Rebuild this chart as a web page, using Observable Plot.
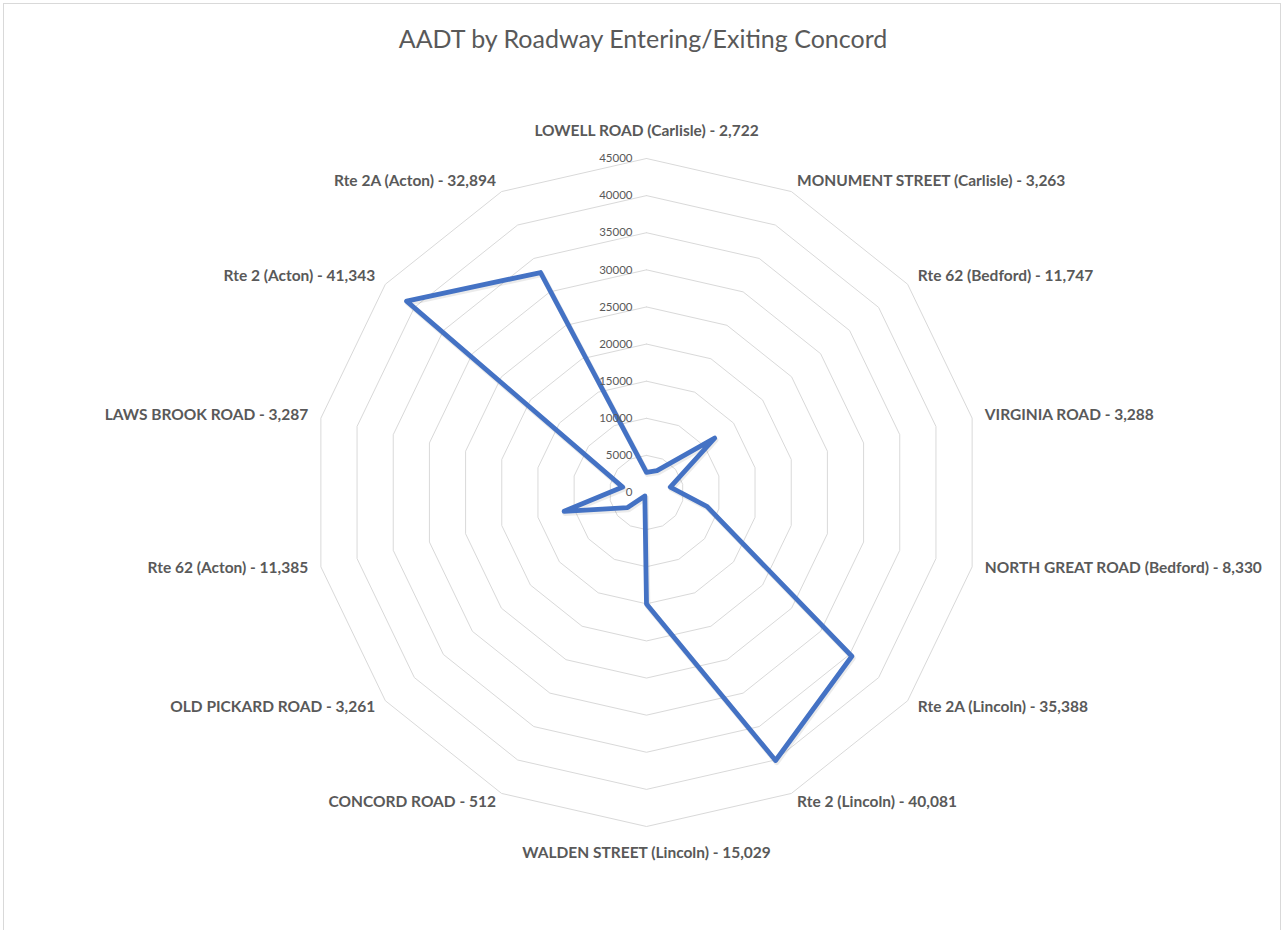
<!DOCTYPE html>
<html>
<head>
<meta charset="utf-8">
<script src="https://cdn.jsdelivr.net/npm/d3@7"></script>
<script src="https://cdn.jsdelivr.net/npm/@observablehq/plot@0.6"></script>
<style>
  html, body { margin: 0; padding: 0; background: #fff; }
  #wrap { position: relative; width: 1286px; height: 930px; overflow: hidden; }
  #frame { position: absolute; left: 3px; top: 3px; width: 1278px; height: 940px; border: 1px solid #d9d9d9; box-sizing: border-box; }
  #title { position: relative; height: 64px; line-height: 76px; text-align: center; font-family: Lato, "Open Sans", sans-serif; font-size: 25px; color: #595959; }
  #chart { position: relative; }
</style>
</head>
<body>
<div id="wrap">
  <div id="frame"></div>
  <div id="title">AADT by Roadway Entering/Exiting Concord</div>
  <div id="chart"></div>
</div>
<script>
const categories = [
  "LOWELL ROAD (Carlisle)",
  "MONUMENT STREET (Carlisle)",
  "Rte 62 (Bedford)",
  "VIRGINIA ROAD",
  "NORTH GREAT ROAD (Bedford)",
  "Rte 2A (Lincoln)",
  "Rte 2 (Lincoln)",
  "WALDEN STREET (Lincoln)",
  "CONCORD ROAD",
  "OLD PICKARD ROAD",
  "Rte 62 (Acton)",
  "LAWS BROOK ROAD",
  "Rte 2 (Acton)",
  "Rte 2A (Acton)"
];
const values = [2722, 3263, 11747, 3288, 8330, 35388, 40081, 15029, 512, 3261, 11385, 3287, 41343, 32894];
const ticks = [0, 5000, 10000, 15000, 20000, 25000, 30000, 35000, 40000, 45000];
const maxValue = 45000;

const W = 1286, H = 866;
const cx = 646, cy = 428;           // centre in svg pixels
const k = 334 / maxValue;           // pixels per unit
const n = categories.length;
const ang = i => i * 2 * Math.PI / n;

// rings
const rings = ticks.filter(t => t > 0).flatMap(t =>
  d3.range(n + 1).map(i => ({t, x: t * Math.sin(ang(i % n)), y: t * Math.cos(ang(i % n))}))
);

// series
const series = d3.range(n + 1).map(i => {
  const j = i % n;
  return {x: values[j] * Math.sin(ang(j)), y: values[j] * Math.cos(ang(j))};
});

// category labels
const fmt = d3.format(",");
const labels = categories.map((c, i) => {
  const s = Math.sin(ang(i)), co = Math.cos(ang(i));
  let dx, dy, anchor;
  if (Math.abs(s) < 1e-6) { dx = 0; dy = -27 * co; anchor = "middle"; }
  else { dx = 13 * s; dy = -11 * co - 1; anchor = s > 0 ? "start" : "end"; }
  return {
    text: `${c} - ${fmt(values[i])}`,
    x: maxValue * s + dx / k,
    y: maxValue * co - dy / k,
    anchor
  };
});

const labelMark = a => Plot.text(labels.filter(d => d.anchor === a), {
  x: "x", y: "y", text: "text", textAnchor: a,
  fill: "#595959", fontSize: 15.5, fontWeight: "bold"
});

const chart = Plot.plot({
  width: W, height: H,
  margin: 0,
  x: {domain: [-cx / k, (W - cx) / k], axis: null},
  y: {domain: [-(H - cy) / k, cy / k], axis: null},
  style: {fontFamily: "Lato, 'Open Sans', sans-serif", background: "transparent", overflow: "visible"},
  marks: [
    Plot.line(rings, {x: "x", y: "y", z: "t", stroke: "#d9d9d9", strokeWidth: 1}),
    Plot.line(series, {x: d => d.x + 150, y: d => d.y - 250, stroke: "#000", strokeOpacity: 0.08, strokeWidth: 5.5, strokeLinejoin: "round"}),
    Plot.line(series, {x: "x", y: "y", stroke: "#4472C4", strokeWidth: 4.8, strokeLinejoin: "round"}),
    Plot.text(ticks, {x: 0, y: d => d, text: d => String(d), textAnchor: "end", dx: -14, fill: "#595959", fontSize: 11.5}),
    labelMark("start"), labelMark("middle"), labelMark("end")
  ]
});
document.getElementById("chart").appendChild(chart);
</script>
</body>
</html>
